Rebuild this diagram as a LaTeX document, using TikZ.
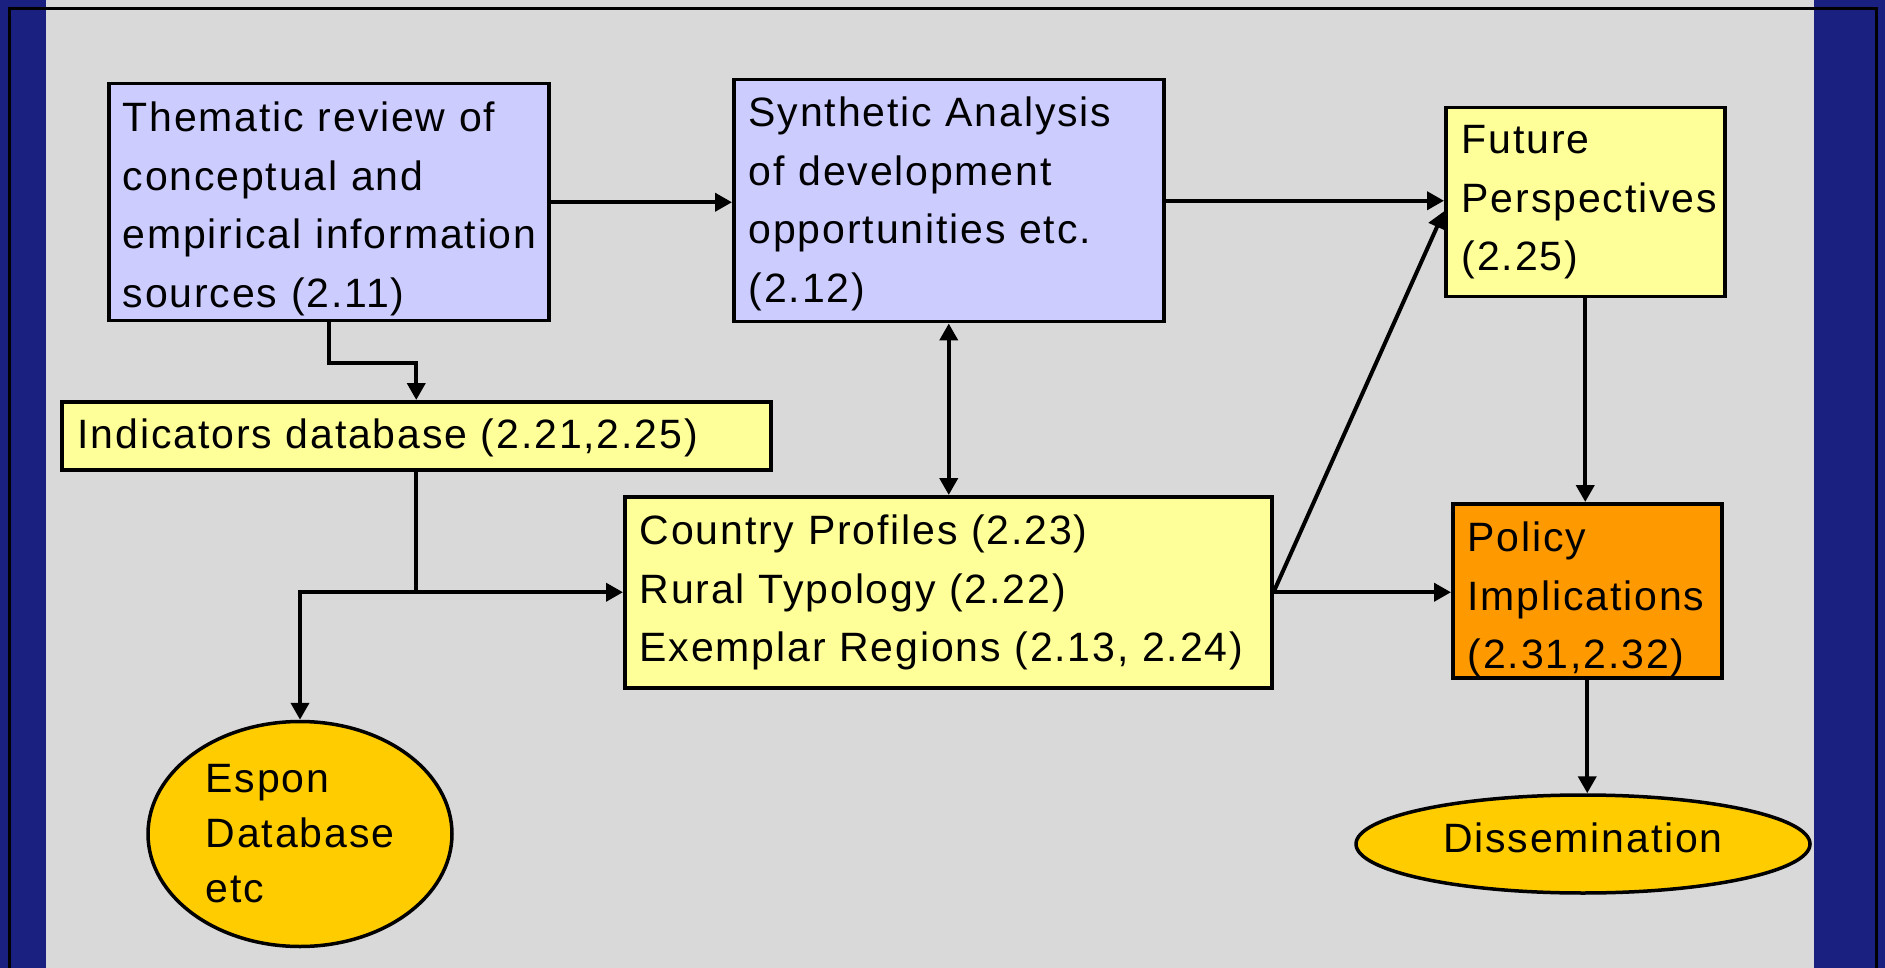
\documentclass[tikz,border=0pt]{standalone}
\usepackage{fontspec}
\setmainfont{Liberation Sans}[LetterSpace=4.5]
\usetikzlibrary{arrows.meta,shapes.geometric}
\definecolor{panelgray}{RGB}{217,217,217}
\definecolor{bandblue}{RGB}{26,32,128}
\definecolor{lavender}{RGB}{204,204,255}
\definecolor{paleyellow}{RGB}{255,255,153}
\definecolor{deeporange}{RGB}{255,153,0}
\definecolor{gold}{RGB}{255,204,0}
\hyphenpenalty=10000
\exhyphenpenalty=10000
\begin{document}
\begin{tikzpicture}[x=1pt,y=-1pt,
    every node/.style={font=\fontsize{41}{58.5}\selectfont},
    plainbox/.style={draw, line width=3.5pt, anchor=north west, inner xsep=15pt, inner ysep=0pt, align=left},
    bluebox/.style={plainbox, fill=lavender},
    yellowbox/.style={plainbox, fill=paleyellow},
    orangebox/.style={plainbox, fill=deeporange},
    goldoval/.style={draw, ellipse, line width=3.5pt, fill=gold, inner sep=0pt},
    link/.style={line width=4pt, -{Triangle[width=18pt,length=17pt]}}]
        \useasboundingbox (0,0) rectangle (1885,968);
        \fill[panelgray] (0,0) rectangle (1885,968);
        \fill[bandblue] (0,0) rectangle (46,968);
        \fill[bandblue] (1814,0) rectangle (1885,968);
        \draw[line width=3pt] (9.5,968) -- (9.5,8.5) -- (1876,8.5) -- (1876,968);
        \node[bluebox, text width=412pt, inner xsep=14pt, text height=48pt, text depth=189pt] (review) at (107,82) {Thematic review of\\conceptual and\\empirical~information\\sources (2.11)};
        \node[bluebox, text width=400pt, text height=47pt, text depth=195pt] (synthesis) at (732,78) {Synthetic~Analysis\\of development\\opportunities~etc.\\(2.12)};
        \node[yellowbox, text width=247pt, inner xsep=16pt, text height=46pt, text depth=143pt] (future) at (1444,106) {Future\\Perspectives\\(2.25)};
        \node[yellowbox, text width=677pt, inner xsep=16pt, text height=47pt, text depth=21pt] (indicators) at (60,400) {Indicators database (2.21,2.25)};
        \node[yellowbox, text width=617pt, text height=48pt, text depth=143pt] (country) at (623,495) {Country Profiles (2.23)\\Rural Typology (2.22)\\Exemplar~Regions~(2.13,~2.24)};
        \node[orangebox, text width=239pt, text height=48pt, text depth=126pt] (policy) at (1451,502) {Policy\\Implications\\(2.31,2.32)};
        \node[goldoval, minimum width=304pt, minimum height=225pt, align=left, font=\fontsize{41}{55}\selectfont] (espon) at (300,834) {Espon\\Database\\etc};
        \node[goldoval, minimum width=454pt, minimum height=98pt, text height=29pt, text depth=13pt] (dissemination) at (1583,844) {Dissemination};
        \coordinate (split) at (indicators.south |- country.west);
        \draw[link] (review.east) -- (review.east -| synthesis.west);
        \draw[link] (synthesis.east) -- (synthesis.east -| future.west);
        \draw[link] (review.south) -- ++(0,40) -| (indicators.north);
        \draw[line width=4pt] (indicators.south) -- (split);
        \draw[link] (split) -- (country.west);
        \draw[link] (split) -| (espon.north);
        \draw[line width=4pt, {Triangle[width=18pt,length=17pt]}-{Triangle[width=18pt,length=17pt]}] (synthesis.south) -- (synthesis.south |- country.north);
        \draw[link] (country.east) -- ([yshift=-9pt]future.west);
        \draw[link] (country.east) -- (country.east -| policy.west);
        \draw[link] (future.south) -- (future.south |- policy.north);
        \draw[link] (policy.south) -- (policy.south |- dissemination.north);
      \end{tikzpicture}
\end{document}
